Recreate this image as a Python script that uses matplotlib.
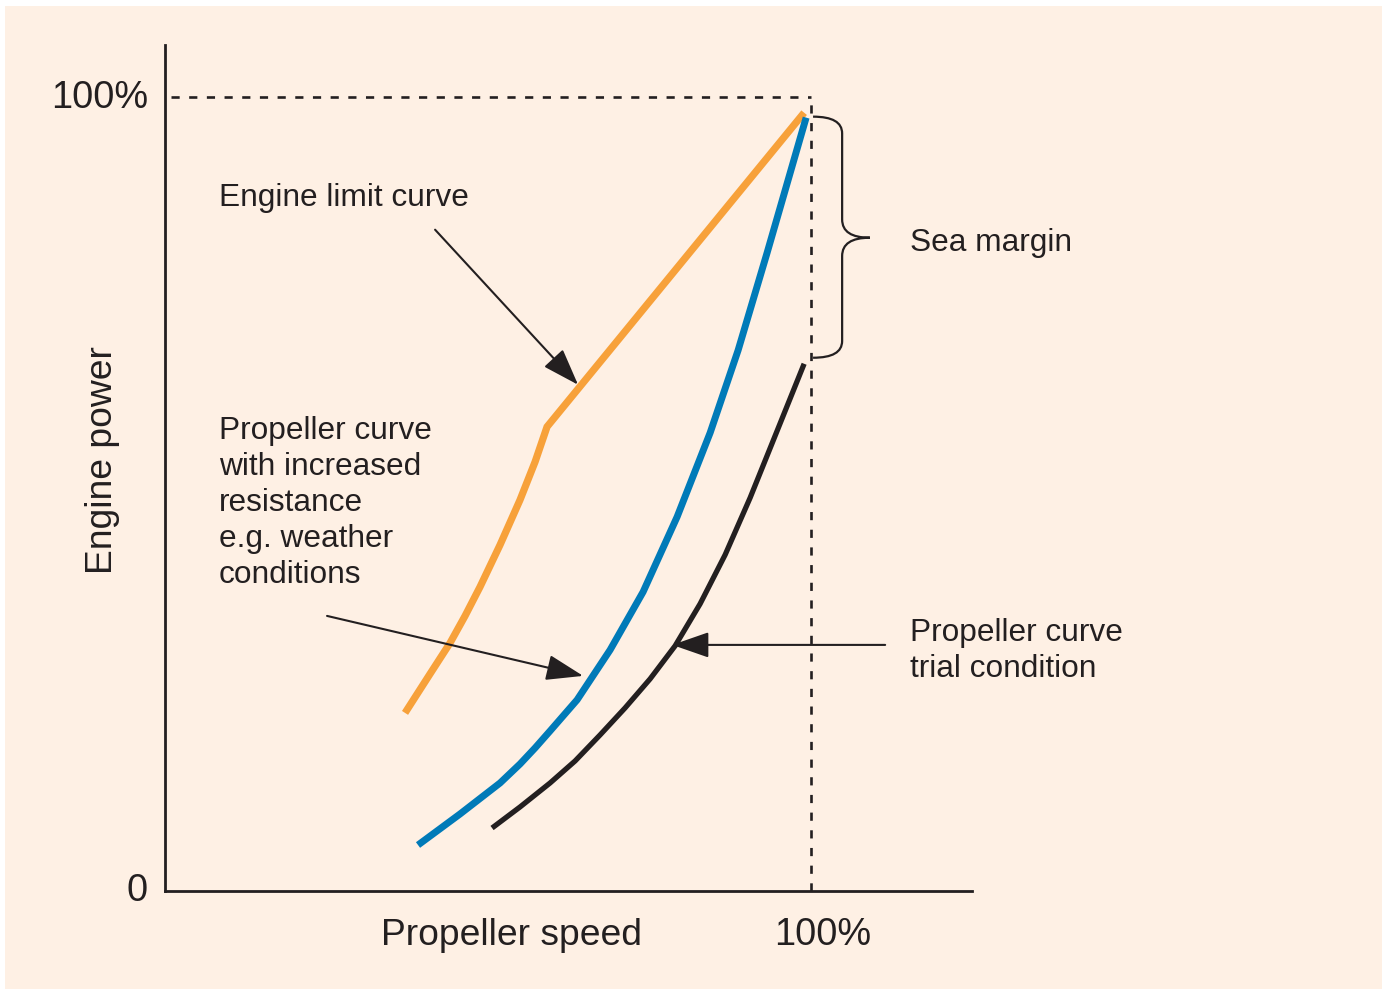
import matplotlib
matplotlib.use("Agg")
import matplotlib.pyplot as plt
from matplotlib.patches import Rectangle, PathPatch
from matplotlib.path import Path

# ---- data (speed % of nominal, power % of nominal) ----
engine_limit_speed = [37.15, 41.02, 44.12, 46.44, 48.76, 51.86, 54.95, 57.28, 59.13, 98.92]
engine_limit_power = [22.42, 27.33, 31.23, 34.63, 38.29, 43.58, 49.24, 54.03, 58.44, 97.98]

heavy_speed = [39.16, 45.67, 51.86, 54.95, 57.28, 59.60, 63.78, 68.89, 74.00, 79.26, 84.37, 88.70, 93.19, 99.23]
heavy_power = [5.79, 9.70, 13.60, 15.99, 18.01, 20.15, 24.06, 30.35, 37.66, 47.10, 57.68, 68.07, 80.35, 97.36]

trial_speed = [50.62, 54.95, 59.60, 63.47, 67.34, 71.21, 75.08, 78.95, 82.82, 86.69, 90.56, 94.74, 98.92]
trial_power = [7.93, 10.58, 13.60, 16.37, 19.65, 23.05, 26.70, 30.86, 36.15, 42.32, 49.50, 57.93, 66.37]

y_tick_labels = ["0", "100%"]
x_label = "Propeller speed"
y_label = "Engine power"
x_tick_label = "100%"

INK = "#231F20"
ORANGE = "#F7A13A"
BLUE = "#007AB8"
CREAM = "#FEF0E4"

plt.rcParams['font.family'] = ['Liberation Sans', 'DejaVu Sans']

W, H = 1386, 991
fig = plt.figure(figsize=(W / 100, H / 100), dpi=100, facecolor="white")
fig.patches.append(Rectangle((5 / W, 2 / H), (1382 - 5) / W, (989 - 6) / H,
                             transform=fig.transFigure, facecolor=CREAM,
                             edgecolor="none", zorder=-10))

ax = fig.add_axes([165 / W, (H - 891) / H, (972 - 165) / W, (891 - 45) / H])
ax.set_facecolor("none")
ax.set_xlim(0, 124.9)
ax.set_ylim(0, 106.5)
for s in ["top", "right"]:
    ax.spines[s].set_visible(False)
for s in ["left", "bottom"]:
    ax.spines[s].set_linewidth(2.0)
    ax.spines[s].set_color(INK)
ax.set_xticks([])
ax.set_yticks([])

# dashed reference lines
dash = (0, (3.1, 3.6))
ax.plot([1.0, 100.0], [100, 100], color=INK, lw=1.9, linestyle=dash, clip_on=False)
ax.plot([100.0, 100.0], [0, 100], color=INK, lw=1.9, linestyle=dash, clip_on=False)

# curves
ax.plot(engine_limit_speed, engine_limit_power, color=ORANGE, lw=5.2,
        solid_capstyle="butt", solid_joinstyle="miter", zorder=3)
ax.plot(heavy_speed, heavy_power, color=BLUE, lw=5.0,
        solid_capstyle="butt", solid_joinstyle="round", zorder=3)
ax.plot(trial_speed, trial_power, color=INK, lw=3.8,
        solid_capstyle="butt", solid_joinstyle="round", zorder=3)

# labels
fs_ax = 26.8
fs_pct = 27.3
fs_an = 22.8
ax.text(-2.63, 98.55, y_tick_labels[1], ha="right", va="baseline", fontsize=fs_pct, color=INK)
ax.text(-2.63, -1.32, y_tick_labels[0], ha="right", va="baseline", fontsize=fs_pct, color=INK)
ax.text(101.86, -6.86, x_tick_label, ha="center", va="baseline", fontsize=fs_pct, color=INK)
ax.text(53.7, -6.86, x_label, ha="center", va="baseline", fontsize=fs_ax, color=INK)
ax.text(-9.75, 54.28, y_label, ha="center", va="center", rotation=90, fontsize=fs_ax, color=INK)

dy = 0.38
ax.text(8.36, 87.66 - dy, "Engine limit curve", ha="left", va="center", fontsize=fs_an, color=INK)
ax.text(8.36, 49.24 - dy, "Propeller curve\nwith increased\nresistance\ne.g. weather\nconditions",
        ha="left", va="center", fontsize=fs_an, color=INK, linespacing=1.26)
ax.text(115.3, 82.0 - dy, "Sea margin", ha="left", va="center", fontsize=fs_an, color=INK)
ax.text(115.3, 30.6 - dy, "Propeller curve\ntrial condition", ha="left", va="center",
        fontsize=fs_an, color=INK, linespacing=1.26)

# arrows
aprops = dict(arrowstyle="-|>,head_length=23,head_width=8", mutation_scale=1,
              color=INK, lw=1.5, shrinkA=0, shrinkB=0)
ax.annotate("", xy=(63.93, 63.73), xytext=(41.8, 83.25), arrowprops=aprops, annotation_clip=False)
ax.annotate("", xy=(64.71, 27.08), xytext=(25.08, 34.63), arrowprops=aprops, annotation_clip=False)
ax.annotate("", xy=(78.5, 30.98), xytext=(111.46, 30.98), arrowprops=aprops, annotation_clip=False)

# sea margin brace
x0, x1, x2 = 100.3, 104.8, 109.1
ytop, ymid, ybot = 97.48, 82.24, 67.13
r, r2 = 2.1, 2.3
verts = [(x0, ytop), (x1, ytop), (x1, ytop - r),
         (x1, ymid + r2),
         (x1, ymid), (x2, ymid),
         (x1, ymid), (x1, ymid - r2),
         (x1, ybot + r),
         (x1, ybot), (x0, ybot)]
codes = [Path.MOVETO, Path.CURVE3, Path.CURVE3,
         Path.LINETO,
         Path.CURVE3, Path.CURVE3,
         Path.CURVE3, Path.CURVE3,
         Path.LINETO,
         Path.CURVE3, Path.CURVE3]
ax.add_patch(PathPatch(Path(verts, codes), facecolor="none", edgecolor=INK, lw=1.6,
                       clip_on=False))

fig.savefig("out.png", dpi=100, facecolor="white")
